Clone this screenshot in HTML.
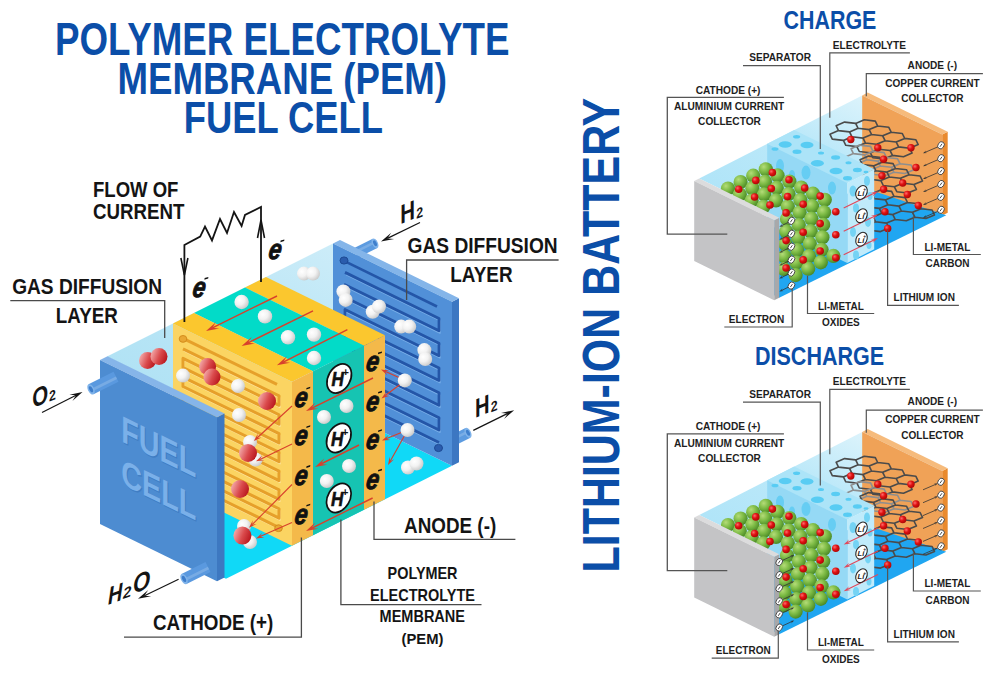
<!DOCTYPE html>
<html><head><meta charset="utf-8"><style>
html,body{margin:0;padding:0;background:#fff;}
svg{display:block;font-family:"Liberation Sans",sans-serif;}
</style></head><body>
<svg width="1000" height="674" viewBox="0 0 1000 674">
<defs>
<linearGradient id="gr" x1="0" y1="0.2" x2="1" y2="0.6"><stop offset="0" stop-color="#f6b4b4"/><stop offset="0.55" stop-color="#da4a4c"/><stop offset="1" stop-color="#b8161d"/></linearGradient>
<radialGradient id="gw" cx="35%" cy="35%" r="70%"><stop offset="0" stop-color="#ffffff"/><stop offset="0.5" stop-color="#f2f2f2"/><stop offset="1" stop-color="#c9c9c9"/></radialGradient>
<radialGradient id="gg" cx="35%" cy="32%" r="70%"><stop offset="0" stop-color="#b4dc78"/><stop offset="0.5" stop-color="#7dbb45"/><stop offset="1" stop-color="#4a8a26"/></radialGradient>
<radialGradient id="gd" cx="35%" cy="35%" r="65%"><stop offset="0" stop-color="#ff6a6a"/><stop offset="0.5" stop-color="#e01212"/><stop offset="1" stop-color="#b00808"/></radialGradient>
<linearGradient id="gtop" x1="0" y1="1" x2="1" y2="0"><stop offset="0" stop-color="#ade1f4"/><stop offset="0.5" stop-color="#bbe6f6"/><stop offset="1" stop-color="#d6f0fa"/></linearGradient>
<linearGradient id="gbtop" x1="0" y1="1" x2="1" y2="0"><stop offset="0" stop-color="#abe3f8"/><stop offset="0.55" stop-color="#bde9f9"/><stop offset="1" stop-color="#eef9fd"/></linearGradient>
</defs>
<rect width="1000" height="674" fill="#fff"/>
<polygon points="107.00,520.50 333.00,407.50 452.00,465.81 226.00,578.81" fill="#10d9f7"/>
<polygon points="107.00,356.50 333.00,243.50 452.00,301.81 226.00,414.81" fill="url(#gtop)"/>
<g transform="translate(356.00,252.80) rotate(-26.57)"><rect x="0" y="-5.2" width="21.24" height="10.4" fill="#5c9be0"/><rect x="0" y="-2.34" width="21.24" height="2.60" fill="#ffffff" opacity="0.18"/><ellipse cx="21.24" cy="0" rx="2.86" ry="5.2" fill="#7fb3ea"/><ellipse cx="21.24" cy="0" rx="1.56" ry="3.12" fill="#3f7fcc"/></g>
<g transform="translate(453.00,440.33) rotate(-26.57)"><rect x="0" y="-5.4" width="16.77" height="10.8" fill="#5c9be0"/><rect x="0" y="-2.43" width="16.77" height="2.70" fill="#ffffff" opacity="0.18"/><ellipse cx="16.77" cy="0" rx="2.97" ry="5.4" fill="#7fb3ea"/><ellipse cx="16.77" cy="0" rx="1.62" ry="3.24" fill="#3f7fcc"/></g>
<polygon points="452.00,301.81 459.00,298.31 459.00,462.31 452.00,465.81" fill="#3c77c2"/>
<polygon points="333.00,243.50 340.00,240.00 459.00,298.31 452.00,301.81" fill="#84b5e9"/>
<polygon points="333.00,243.50 452.00,301.81 452.00,465.81 333.00,407.50" fill="#5190d8"/>
<path d="M346.00,274.67 L440.00,320.73 L440.00,333.13 L346.00,287.07 L346.00,299.47 L440.00,345.53 L440.00,357.93 L346.00,311.87 L346.00,324.27 L440.00,370.33 L440.00,382.73 L346.00,336.67 L346.00,349.07 L440.00,395.13 L440.00,407.53 L346.00,361.47 L346.00,373.87 L440.00,419.93 L440.00,432.33 L346.00,386.27 L346.00,398.67 L440.00,444.73" fill="none" stroke="#78aee8" stroke-width="1.3" stroke-linejoin="round"/>
<path d="M345.00,272.38 L439.00,318.44 L439.00,330.84 L345.00,284.78 L345.00,297.18 L439.00,343.24 L439.00,355.64 L345.00,309.58 L345.00,321.98 L439.00,368.04 L439.00,380.44 L345.00,334.38 L345.00,346.78 L439.00,392.84 L439.00,405.24 L345.00,359.18 L345.00,371.58 L439.00,417.64 L439.00,430.04 L345.00,383.98 L345.00,396.38 L439.00,442.44" fill="none" stroke="#2456a8" stroke-width="2.8" stroke-linejoin="round"/>
<path d="M343.00,260.40 L437.00,306.46" fill="none" stroke="#2456a8" stroke-width="2.6" stroke-linejoin="round"/>
<ellipse cx="344.0" cy="260.5" rx="4" ry="3.6" fill="#2a5cad" stroke="#1d4a94" stroke-width="1"/>
<ellipse cx="438.5" cy="448.0" rx="4" ry="3.6" fill="#2a5cad" stroke="#1d4a94" stroke-width="1"/>
<circle cx="304.0" cy="273.6" r="7" fill="url(#gw)"/>
<circle cx="313.0" cy="273.6" r="7" fill="url(#gw)"/>
<circle cx="343.4" cy="291.4" r="7" fill="url(#gw)"/>
<circle cx="345.7" cy="299.9" r="7" fill="url(#gw)"/>
<circle cx="372.7" cy="311.8" r="7" fill="url(#gw)"/>
<circle cx="379.0" cy="306.5" r="7" fill="url(#gw)"/>
<circle cx="401.2" cy="326.6" r="7" fill="url(#gw)"/>
<circle cx="409.2" cy="326.6" r="7" fill="url(#gw)"/>
<circle cx="424.4" cy="350.1" r="7" fill="url(#gw)"/>
<circle cx="425.2" cy="359.0" r="7" fill="url(#gw)"/>
<circle cx="408.0" cy="467.5" r="7" fill="url(#gw)"/>
<circle cx="416.5" cy="463.5" r="7" fill="url(#gw)"/>
<polygon points="245.00,287.50 266.00,277.00 385.00,335.31 364.00,345.81" fill="#fbc72e"/>
<polygon points="364.00,345.81 385.00,335.31 385.00,499.31 364.00,509.81" fill="#f4b94a"/>
<polygon points="194.00,313.00 245.00,287.50 364.00,345.81 313.00,371.31" fill="#02dbc8"/>
<polygon points="313.00,371.31 364.00,345.81 364.00,509.81 313.00,535.31" fill="#16c4b2"/>
<polygon points="173.00,323.50 194.00,313.00 313.00,371.31 292.00,381.81" fill="#fbc72e"/>
<polygon points="292.00,381.81 313.00,371.31 313.00,535.31 292.00,545.81" fill="#f4b94a"/>
<polygon points="173.00,323.50 292.00,381.81 292.00,545.81 173.00,487.50" fill="#fbd462"/>
<path d="M184.00,350.89 L280.00,397.93 L280.00,407.33 L184.00,360.29 L184.00,369.69 L280.00,416.73 L280.00,426.13 L184.00,379.09 L184.00,388.49 L280.00,435.53 L280.00,444.93 L184.00,397.89 L184.00,407.29 L280.00,454.33 L280.00,463.73 L184.00,416.69 L184.00,426.09 L280.00,473.13 L280.00,482.53 L184.00,435.49 L184.00,444.89 L280.00,491.93 L280.00,501.33 L184.00,454.29 L184.00,463.69 L280.00,510.73 L280.00,520.13 L184.00,473.09 L184.00,482.49 L280.00,529.53" fill="none" stroke="#fde5a0" stroke-width="1.3" stroke-linejoin="round"/>
<path d="M183.00,348.90 L279.00,395.94 L279.00,405.34 L183.00,358.30 L183.00,367.70 L279.00,414.74 L279.00,424.14 L183.00,377.10 L183.00,386.50 L279.00,433.54 L279.00,442.94 L183.00,395.90 L183.00,405.30 L279.00,452.34 L279.00,461.74 L183.00,414.70 L183.00,424.10 L279.00,471.14 L279.00,480.54 L183.00,433.50 L183.00,442.90 L279.00,489.94 L279.00,499.34 L183.00,452.30 L183.00,461.70 L279.00,508.74 L279.00,518.14 L183.00,471.10 L183.00,480.50 L279.00,527.54" fill="none" stroke="#e6a02a" stroke-width="3.0" stroke-linejoin="round"/>
<path d="M183.00,338.40 L277.00,384.46" fill="none" stroke="#e6a02a" stroke-width="3.0" stroke-linejoin="round"/>
<ellipse cx="183.0" cy="338.9" rx="3.8" ry="3.4" fill="#e9a733" stroke="#d48d1c" stroke-width="1"/>
<ellipse cx="278.5" cy="528.2" rx="3.8" ry="3.4" fill="#e9a733" stroke="#d48d1c" stroke-width="1"/>
<circle cx="241.6" cy="302.0" r="7.2" fill="url(#gw)"/>
<circle cx="265.0" cy="316.4" r="7.2" fill="url(#gw)"/>
<circle cx="288.0" cy="337.3" r="7.2" fill="url(#gw)"/>
<circle cx="314.0" cy="334.6" r="7.2" fill="url(#gw)"/>
<circle cx="314.0" cy="358.0" r="7.2" fill="url(#gw)"/>
<circle cx="324.0" cy="417.0" r="7" fill="url(#gw)"/>
<circle cx="346.5" cy="406.0" r="7" fill="url(#gw)"/>
<circle cx="326.8" cy="481.0" r="7" fill="url(#gw)"/>
<circle cx="349.0" cy="466.0" r="7" fill="url(#gw)"/>
<line x1="277.0" y1="296.0" x2="212.4" y2="327.8" stroke="#d8402c" stroke-width="1.4"/>
<polygon points="206.0,331.0 216.1,322.0 212.4,327.8 219.3,328.5" fill="#d8402c"/>
<line x1="313.0" y1="310.8" x2="248.0" y2="342.8" stroke="#d8402c" stroke-width="1.4"/>
<polygon points="241.6,346.0 251.7,337.0 248.0,342.8 254.9,343.5" fill="#d8402c"/>
<line x1="347.4" y1="329.7" x2="283.3" y2="362.1" stroke="#d8402c" stroke-width="1.4"/>
<polygon points="276.9,365.3 286.9,356.2 283.3,362.1 290.1,362.7" fill="#d8402c"/>
<circle cx="147.5" cy="360.5" r="8.5" fill="url(#gr)"/>
<circle cx="159.0" cy="356.6" r="8.5" fill="url(#gr)"/>
<circle cx="183.0" cy="375.6" r="7" fill="url(#gw)"/>
<circle cx="207.6" cy="366.6" r="8.5" fill="url(#gr)"/>
<circle cx="212.0" cy="377.0" r="8.5" fill="url(#gr)"/>
<circle cx="238.0" cy="386.0" r="7" fill="url(#gw)"/>
<circle cx="267.0" cy="401.0" r="9" fill="url(#gr)"/>
<circle cx="239.0" cy="415.0" r="7" fill="url(#gw)"/>
<circle cx="250.0" cy="442.0" r="7" fill="url(#gw)"/>
<circle cx="255.6" cy="459.6" r="7" fill="url(#gw)"/>
<circle cx="248.0" cy="453.0" r="9" fill="url(#gr)"/>
<circle cx="240.0" cy="489.0" r="9" fill="url(#gr)"/>
<circle cx="244.0" cy="526.0" r="7" fill="url(#gw)"/>
<circle cx="250.0" cy="542.0" r="7" fill="url(#gw)"/>
<circle cx="242.4" cy="535.6" r="9" fill="url(#gr)"/>
<g transform="translate(339.2,378.5) rotate(-60)"><ellipse cx="0" cy="0" rx="15.5" ry="11" fill="#fff" stroke="#111" stroke-width="1.7"/></g>
<text transform="translate(331.4,386.0) scale(0.85,1)" font-size="20" font-weight="bold" font-style="italic" fill="#111" stroke="#111" stroke-width="0.6">H</text>
<text x="342.4" y="376.0" font-size="11" font-weight="bold" fill="#111">+</text>
<g transform="translate(338.8,438) rotate(-60)"><ellipse cx="0" cy="0" rx="15.5" ry="11" fill="#fff" stroke="#111" stroke-width="1.7"/></g>
<text transform="translate(331.0,445.5) scale(0.85,1)" font-size="20" font-weight="bold" font-style="italic" fill="#111" stroke="#111" stroke-width="0.6">H</text>
<text x="342.0" y="435.5" font-size="11" font-weight="bold" fill="#111">+</text>
<g transform="translate(338.8,498) rotate(-60)"><ellipse cx="0" cy="0" rx="15.5" ry="11" fill="#fff" stroke="#111" stroke-width="1.7"/></g>
<text transform="translate(331.0,505.5) scale(0.85,1)" font-size="20" font-weight="bold" font-style="italic" fill="#111" stroke="#111" stroke-width="0.6">H</text>
<text x="342.0" y="495.5" font-size="11" font-weight="bold" fill="#111">+</text>
<text transform="translate(293.4,406.6) skewX(-10) scale(0.8,1)" x="0" y="0" font-size="28.5" font-weight="bold" font-style="italic" fill="#111" stroke="#111" stroke-width="0.9">e</text>
<polygon points="306.5,387.9 310.3,386.7 310.1,388.3 306.3,389.5" fill="#111"/>
<text transform="translate(293.4,445.1) skewX(-10) scale(0.8,1)" x="0" y="0" font-size="28.5" font-weight="bold" font-style="italic" fill="#111" stroke="#111" stroke-width="0.9">e</text>
<polygon points="306.5,426.4 310.3,425.2 310.1,426.8 306.3,428.0" fill="#111"/>
<text transform="translate(293.4,485.0) skewX(-10) scale(0.8,1)" x="0" y="0" font-size="28.5" font-weight="bold" font-style="italic" fill="#111" stroke="#111" stroke-width="0.9">e</text>
<polygon points="306.5,466.3 310.3,465.1 310.1,466.7 306.3,467.9" fill="#111"/>
<text transform="translate(293.4,523.6) skewX(-10) scale(0.8,1)" x="0" y="0" font-size="28.5" font-weight="bold" font-style="italic" fill="#111" stroke="#111" stroke-width="0.9">e</text>
<polygon points="306.5,504.9 310.3,503.7 310.1,505.3 306.3,506.5" fill="#111"/>
<text transform="translate(365.1,371.3) skewX(-10) scale(0.8,1)" x="0" y="0" font-size="28.5" font-weight="bold" font-style="italic" fill="#111" stroke="#111" stroke-width="0.9">e</text>
<polygon points="378.2,352.6 382.0,351.4 381.8,353.0 378.0,354.2" fill="#111"/>
<text transform="translate(365.1,410.7) skewX(-10) scale(0.8,1)" x="0" y="0" font-size="28.5" font-weight="bold" font-style="italic" fill="#111" stroke="#111" stroke-width="0.9">e</text>
<polygon points="378.2,392.0 382.0,390.8 381.8,392.4 378.0,393.6" fill="#111"/>
<text transform="translate(365.1,449.1) skewX(-10) scale(0.8,1)" x="0" y="0" font-size="28.5" font-weight="bold" font-style="italic" fill="#111" stroke="#111" stroke-width="0.9">e</text>
<polygon points="378.2,430.4 382.0,429.2 381.8,430.8 378.0,432.0" fill="#111"/>
<text transform="translate(365.1,488.7) skewX(-10) scale(0.8,1)" x="0" y="0" font-size="28.5" font-weight="bold" font-style="italic" fill="#111" stroke="#111" stroke-width="0.9">e</text>
<polygon points="378.2,470.0 382.0,468.8 381.8,470.4 378.0,471.6" fill="#111"/>
<line x1="373.0" y1="378.0" x2="311.9" y2="408.1" stroke="#d8402c" stroke-width="1.4"/>
<polygon points="306.0,411.0 315.3,402.6 311.9,408.1 318.3,408.7" fill="#d8402c"/>
<line x1="359.0" y1="445.0" x2="320.9" y2="464.0" stroke="#d8402c" stroke-width="1.4"/>
<polygon points="315.0,467.0 324.2,458.6 320.9,464.0 327.3,464.7" fill="#d8402c"/>
<line x1="372.6" y1="498.0" x2="311.9" y2="528.1" stroke="#d8402c" stroke-width="1.4"/>
<polygon points="306.0,531.0 315.2,522.6 311.9,528.1 318.3,528.7" fill="#d8402c"/>
<line x1="292.0" y1="406.0" x2="257.0" y2="438.0" stroke="#d8402c" stroke-width="1.1"/>
<polygon points="253.8,441.0 257.9,433.6 257.0,438.0 261.5,437.5" fill="#d8402c"/>
<line x1="292.0" y1="444.0" x2="260.0" y2="459.4" stroke="#d8402c" stroke-width="1.1"/>
<polygon points="256.0,461.3 262.1,455.5 260.0,459.4 264.4,460.2" fill="#d8402c"/>
<line x1="292.0" y1="484.5" x2="252.1" y2="524.7" stroke="#d8402c" stroke-width="1.1"/>
<polygon points="249.0,527.8 252.8,520.3 252.1,524.7 256.5,524.0" fill="#d8402c"/>
<line x1="292.0" y1="522.5" x2="260.0" y2="536.6" stroke="#d8402c" stroke-width="1.1"/>
<polygon points="256.0,538.4 262.3,532.8 260.0,536.6 264.4,537.6" fill="#d8402c"/>
<line x1="401.0" y1="378.5" x2="385.0" y2="371.3" stroke="#d8402c" stroke-width="1.1"/>
<polygon points="381.0,369.5 389.4,370.4 385.0,371.3 387.2,375.2" fill="#d8402c"/>
<line x1="402.0" y1="383.0" x2="385.0" y2="395.8" stroke="#d8402c" stroke-width="1.1"/>
<polygon points="381.5,398.5 386.3,391.6 385.0,395.8 389.5,395.8" fill="#d8402c"/>
<line x1="405.0" y1="431.0" x2="386.1" y2="438.8" stroke="#d8402c" stroke-width="1.1"/>
<polygon points="382.0,440.5 388.4,435.0 386.1,438.8 390.4,439.9" fill="#d8402c"/>
<line x1="406.0" y1="433.0" x2="390.2" y2="461.2" stroke="#d8402c" stroke-width="1.1"/>
<polygon points="388.0,465.0 389.6,456.7 390.2,461.2 394.2,459.3" fill="#d8402c"/>
<circle cx="404.8" cy="380.4" r="7" fill="url(#gw)"/>
<circle cx="407.5" cy="430.0" r="7" fill="url(#gw)"/>
<polygon points="217.00,417.33 224.50,413.58 224.50,577.58 217.00,581.33" fill="#3d78c1"/>
<polygon points="100.00,360.00 107.50,356.25 224.50,413.58 217.00,417.33" fill="#86b5e9"/>
<polygon points="100.00,360.00 217.00,417.33 217.00,581.33 100.00,524.00" fill="#4d8cd1"/>
<g transform="matrix(1,0.49,0,1,100,360)">
<text x="22.30" y="71.80" font-size="37.26" font-weight="bold" textLength="75.00" lengthAdjust="spacingAndGlyphs" fill="#3f7cc2" opacity="0.9">FUEL</text>
<text x="22.30" y="114.50" font-size="36.39" font-weight="bold" textLength="75.00" lengthAdjust="spacingAndGlyphs" fill="#3f7cc2" opacity="0.9">CELL</text>
<text x="21.30" y="70.80" font-size="37.26" font-weight="bold" textLength="75.00" lengthAdjust="spacingAndGlyphs" fill="#7ab0e9">FUEL</text>
<text x="21.30" y="113.50" font-size="36.39" font-weight="bold" textLength="75.00" lengthAdjust="spacingAndGlyphs" fill="#7ab0e9">CELL</text>
</g>
<g transform="translate(116.00,376.86) rotate(153.43)"><rect x="0" y="-5.6" width="27.95" height="11.2" fill="#5a99df"/><rect x="0" y="-2.52" width="27.95" height="2.80" fill="#ffffff" opacity="0.18"/><ellipse cx="27.95" cy="0" rx="3.08" ry="5.6" fill="#7fb3ea"/><ellipse cx="27.95" cy="0" rx="1.68" ry="3.36" fill="#3d7dcb"/></g>
<g transform="translate(208.00,566.94) rotate(153.43)"><rect x="0" y="-5.6" width="26.83" height="11.2" fill="#5a99df"/><rect x="0" y="-2.52" width="26.83" height="2.80" fill="#ffffff" opacity="0.18"/><ellipse cx="26.83" cy="0" rx="3.08" ry="5.6" fill="#7fb3ea"/><ellipse cx="26.83" cy="0" rx="1.68" ry="3.36" fill="#3d7dcb"/></g>
<polyline points="184.4,322 184.4,245 200.2,236.6 205,226.6 212,240.4 220,219 227,233 234,212 241.6,226 245,215 261,207 261,282" fill="none" stroke="#141414" stroke-width="1.8" stroke-linejoin="miter"/>
<polyline points="180.9,258 184.4,275 187.9,258" fill="none" stroke="#141414" stroke-width="1.6"/>
<polyline points="257.5,238 261,220 264.5,238" fill="none" stroke="#141414" stroke-width="1.6"/>
<text transform="translate(191.5,296.8) skewX(-10) scale(0.8,1)" x="0" y="0" font-size="28.5" font-weight="bold" font-style="italic" fill="#111" stroke="#111" stroke-width="0.9">e</text>
<polygon points="204.6,278.1 208.4,276.9 208.2,278.5 204.4,279.7" fill="#111"/>
<text transform="translate(267.5,259.3) skewX(-10) scale(0.8,1)" x="0" y="0" font-size="28.5" font-weight="bold" font-style="italic" fill="#111" stroke="#111" stroke-width="0.9">e</text>
<polygon points="280.6,240.6 284.4,239.4 284.2,241.0 280.4,242.2" fill="#111"/>
<text x="55.00" y="55.00" font-size="45.49" font-weight="bold" textLength="454.49" lengthAdjust="spacingAndGlyphs" fill="#0b4ea8">POLYMER ELECTROLYTE</text>
<text x="117.50" y="93.75" font-size="43.67" font-weight="bold" textLength="329.49" lengthAdjust="spacingAndGlyphs" fill="#0b4ea8">MEMBRANE (PEM)</text>
<text x="183.75" y="132.50" font-size="43.67" font-weight="bold" textLength="199.27" lengthAdjust="spacingAndGlyphs" fill="#0b4ea8">FUEL CELL</text>
<text x="93.00" y="197.00" font-size="21.25" font-weight="bold" textLength="85.40" lengthAdjust="spacingAndGlyphs" fill="#141414">FLOW OF</text>
<text x="93.00" y="219.00" font-size="21.25" font-weight="bold" textLength="91.39" lengthAdjust="spacingAndGlyphs" fill="#141414">CURRENT</text>
<text x="12.20" y="293.80" font-size="22.27" font-weight="bold" textLength="149.79" lengthAdjust="spacingAndGlyphs" fill="#141414">GAS DIFFUSION</text>
<text x="55.80" y="323.00" font-size="22.85" font-weight="bold" textLength="62.11" lengthAdjust="spacingAndGlyphs" fill="#141414">LAYER</text>
<text x="407.60" y="253.00" font-size="22.13" font-weight="bold" textLength="150.09" lengthAdjust="spacingAndGlyphs" fill="#141414">GAS DIFFUSION</text>
<text x="450.30" y="282.40" font-size="22.71" font-weight="bold" textLength="62.31" lengthAdjust="spacingAndGlyphs" fill="#141414">LAYER</text>
<text x="404.10" y="532.60" font-size="22.13" font-weight="bold" textLength="92.10" lengthAdjust="spacingAndGlyphs" fill="#141414">ANODE (-)</text>
<text x="387.60" y="579.30" font-size="16.30" font-weight="bold" textLength="69.90" lengthAdjust="spacingAndGlyphs" fill="#141414">POLYMER</text>
<text x="370.00" y="600.70" font-size="16.30" font-weight="bold" textLength="104.90" lengthAdjust="spacingAndGlyphs" fill="#141414">ELECTROLYTE</text>
<text x="379.60" y="622.00" font-size="15.57" font-weight="bold" textLength="85.40" lengthAdjust="spacingAndGlyphs" fill="#141414">MEMBRANE</text>
<text x="401.50" y="643.50" font-size="14.85" font-weight="bold" textLength="41.90" lengthAdjust="spacingAndGlyphs" fill="#141414">(PEM)</text>
<text x="152.90" y="630.20" font-size="22.13" font-weight="bold" textLength="120.40" lengthAdjust="spacingAndGlyphs" fill="#141414">CATHODE (+)</text>
<polyline points="10.30,300.60 164.70,300.60 164.70,337.90" fill="none" stroke="#4a4a4a" stroke-width="1.3"/>
<polyline points="558.60,260.00 406.60,260.00 406.60,300.00" fill="none" stroke="#4a4a4a" stroke-width="1.3"/>
<polyline points="374.00,501.40 374.00,539.30 515.40,539.30" fill="none" stroke="#4a4a4a" stroke-width="1.3"/>
<polyline points="340.90,519.50 340.90,604.70 481.50,604.70" fill="none" stroke="#4a4a4a" stroke-width="1.3"/>
<polyline points="301.40,537.40 301.40,637.20 124.00,637.20" fill="none" stroke="#4a4a4a" stroke-width="1.3"/>
<g transform="translate(33,408) skewY(-22)"><text transform="scale(0.78,1)" x="-1.10" y="0" font-size="26.3" font-weight="bold" fill="#141414">O</text><text transform="translate(16.6,0.2) scale(0.85,1)" x="-0.6" y="0" font-size="14.5" font-weight="bold" fill="#141414">2</text></g>
<line x1="42.0" y1="412.5" x2="76.1" y2="395.2" stroke="#141414" stroke-width="1.2"/>
<polygon points="82.5,392.0 72.4,400.9 76.1,395.2 69.4,394.8" fill="#141414"/>
<g transform="translate(401.7,223.6) skewY(-22)"><text transform="scale(0.76,1)" x="-1.95" y="0" font-size="26.9" font-weight="bold" fill="#141414">H</text><text transform="translate(15.1,1.4) scale(0.85,1)" x="-0.6" y="0" font-size="14.5" font-weight="bold" fill="#141414">2</text></g>
<line x1="420.0" y1="222.5" x2="387.4" y2="238.4" stroke="#141414" stroke-width="1.2"/>
<polygon points="381.0,241.5 391.2,232.7 387.4,238.4 394.2,238.9" fill="#141414"/>
<g transform="translate(476.5,417.3) skewY(-22)"><text transform="scale(0.76,1)" x="-1.95" y="0" font-size="26.5" font-weight="bold" fill="#141414">H</text><text transform="translate(14.8,1.0) scale(0.85,1)" x="-0.6" y="0" font-size="14.5" font-weight="bold" fill="#141414">2</text></g>
<line x1="473.3" y1="430.4" x2="507.8" y2="413.4" stroke="#141414" stroke-width="1.2"/>
<polygon points="514.2,410.2 504.0,419.0 507.8,413.4 501.0,412.9" fill="#141414"/>
<g transform="translate(108,605) skewY(-20)"><text transform="scale(0.8,1)" x="0" y="0" font-size="25" font-weight="bold" font-style="italic" fill="#141414">H</text><text x="15" y="-0.5" font-size="15" font-weight="bold" font-style="italic" fill="#141414">2</text><text transform="scale(0.85,1)" x="29.5" y="-2" font-size="26" font-weight="bold" font-style="italic" fill="#141414">O</text></g>
<line x1="178.6" y1="579.2" x2="144.4" y2="595.7" stroke="#141414" stroke-width="1.2"/>
<polygon points="138.0,598.8 148.2,590.1 144.4,595.7 151.2,596.2" fill="#141414"/>
<polygon points="699.20,178.55 862.20,95.42 942.20,134.62 779.20,217.75" fill="url(#gbtop)"/>
<polygon points="942.20,134.62 947.70,131.81 947.70,212.81 942.20,215.62" fill="#e98a2e"/>
<polygon points="862.20,95.42 867.70,92.61 947.70,131.81 942.20,134.62" fill="#f6bb7c"/>
<polygon points="862.20,95.42 942.20,134.62 942.20,216.50 862.20,192.00" fill="#f0a257"/>
<polygon points="699.20,258.55 862.20,187.20 946.30,215.30 779.20,297.75" fill="#20a6f1"/>
<clipPath id="bclipcharge"><polygon points="694.20,181.10 867.20,92.87 947.20,132.07 947.20,212.07 774.20,300.30 694.20,261.10"/></clipPath>
<g clip-path="url(#bclipcharge)">
<path d="M877.7,126.0 L875.3,121.1 L864.3,119.8 L855.7,123.4 L858.1,128.3 L869.1,129.6Z M891.2,132.2 L888.8,127.3 L877.8,126.0 L869.2,129.6 L871.6,134.5 L882.6,135.8Z M904.7,138.4 L902.3,133.5 L891.3,132.2 L882.7,135.8 L885.1,140.7 L896.1,142.0Z M918.2,144.6 L915.8,139.7 L904.8,138.4 L896.2,142.0 L898.6,146.9 L909.6,148.2Z M858.1,128.3 L855.6,123.4 L844.6,122.1 L836.1,125.7 L838.5,130.6 L849.5,131.9Z M871.6,134.5 L869.1,129.6 L858.1,128.3 L849.6,131.9 L852.0,136.8 L863.0,138.1Z M885.1,140.7 L882.6,135.8 L871.6,134.5 L863.1,138.1 L865.5,143.0 L876.5,144.3Z M898.6,146.9 L896.1,142.0 L885.1,140.7 L876.6,144.3 L879.0,149.2 L890.0,150.5Z M912.1,153.1 L909.6,148.2 L898.6,146.9 L890.1,150.5 L892.5,155.4 L903.5,156.7Z M851.9,136.8 L849.5,131.9 L838.5,130.6 L829.9,134.2 L832.3,139.1 L843.3,140.4Z M865.4,143.0 L863.0,138.1 L852.0,136.8 L843.4,140.4 L845.8,145.3 L856.8,146.6Z M878.9,149.2 L876.5,144.3 L865.5,143.0 L856.9,146.6 L859.3,151.5 L870.3,152.8Z M892.4,155.4 L890.0,150.5 L879.0,149.2 L870.4,152.8 L872.8,157.7 L883.8,159.0Z" fill="none" stroke="#4b4b4b" stroke-width="1.6" stroke-linejoin="round"/>
<path d="M873.0,151.3 L870.6,146.4 L859.6,145.1 L851.0,148.7 L853.4,153.6 L864.4,154.9Z M886.5,157.5 L884.1,152.6 L873.1,151.3 L864.5,154.9 L866.9,159.8 L877.9,161.1Z M900.0,163.7 L897.6,158.8 L886.6,157.5 L878.0,161.1 L880.4,166.0 L891.4,167.3Z M913.5,169.9 L911.1,165.0 L900.1,163.7 L891.5,167.3 L893.9,172.2 L904.9,173.5Z M866.9,159.8 L864.4,154.9 L853.4,153.6 L844.9,157.2 L847.3,162.1 L858.3,163.4Z M880.4,166.0 L877.9,161.1 L866.9,159.8 L858.4,163.4 L860.8,168.3 L871.8,169.6Z M893.9,172.2 L891.4,167.3 L880.4,166.0 L871.9,169.6 L874.3,174.5 L885.3,175.8Z" fill="none" stroke="#8e8e8e" stroke-width="1.6" stroke-linejoin="round"/>
<path d="M882.0,162.3 L879.6,157.4 L868.6,156.1 L860.0,159.7 L862.4,164.6 L873.4,165.9Z M895.5,168.5 L893.1,163.6 L882.1,162.3 L873.5,165.9 L875.9,170.8 L886.9,172.1Z M909.0,174.7 L906.6,169.8 L895.6,168.5 L887.0,172.1 L889.4,177.0 L900.4,178.3Z M922.5,180.9 L920.1,176.0 L909.1,174.7 L900.5,178.3 L902.9,183.2 L913.9,184.5Z M875.9,170.8 L873.4,165.9 L862.4,164.6 L853.9,168.2 L856.3,173.1 L867.3,174.4Z M889.4,177.0 L886.9,172.1 L875.9,170.8 L867.4,174.4 L869.8,179.3 L880.8,180.6Z M902.9,183.2 L900.4,178.3 L889.4,177.0 L880.9,180.6 L883.3,185.5 L894.3,186.8Z M916.4,189.4 L913.9,184.5 L902.9,183.2 L894.4,186.8 L896.8,191.7 L907.8,193.0Z" fill="none" stroke="#4b4b4b" stroke-width="1.6" stroke-linejoin="round"/>
<path d="M894.0,196.3 L891.6,191.4 L880.6,190.1 L872.0,193.7 L874.4,198.6 L885.4,199.9Z M907.5,202.5 L905.1,197.6 L894.1,196.3 L885.5,199.9 L887.9,204.8 L898.9,206.1Z M921.0,208.7 L918.6,203.8 L907.6,202.5 L899.0,206.1 L901.4,211.0 L912.4,212.3Z M934.5,214.9 L932.1,210.0 L921.1,208.7 L912.5,212.3 L914.9,217.2 L925.9,218.5Z M874.4,198.6 L871.9,193.7 L860.9,192.4 L852.4,196.0 L854.8,200.9 L865.8,202.2Z M887.9,204.8 L885.4,199.9 L874.4,198.6 L865.9,202.2 L868.3,207.1 L879.3,208.4Z M901.4,211.0 L898.9,206.1 L887.9,204.8 L879.4,208.4 L881.8,213.3 L892.8,214.6Z M914.9,217.2 L912.4,212.3 L901.4,211.0 L892.9,214.6 L895.3,219.5 L906.3,220.8Z M868.2,207.1 L865.8,202.2 L854.8,200.9 L846.2,204.5 L848.6,209.4 L859.6,210.7Z M881.7,213.3 L879.3,208.4 L868.3,207.1 L859.7,210.7 L862.1,215.6 L873.1,216.9Z M895.2,219.5 L892.8,214.6 L881.8,213.3 L873.2,216.9 L875.6,221.8 L886.6,223.1Z M875.5,221.8 L873.1,216.9 L862.1,215.6 L853.5,219.2 L856.0,224.1 L867.0,225.4Z M889.0,228.0 L886.6,223.1 L875.6,221.8 L867.0,225.4 L869.5,230.3 L880.5,231.6Z" fill="none" stroke="#4b4b4b" stroke-width="1.6" stroke-linejoin="round"/>
<circle cx="850.8" cy="139.5" r="3.7" fill="url(#gd)"/>
<circle cx="877.8" cy="147.8" r="3.7" fill="url(#gd)"/>
<circle cx="911.0" cy="147.8" r="3.7" fill="url(#gd)"/>
<circle cx="883.6" cy="159.2" r="3.7" fill="url(#gd)"/>
<circle cx="916.0" cy="167.5" r="3.7" fill="url(#gd)"/>
<circle cx="882.0" cy="175.8" r="3.7" fill="url(#gd)"/>
<circle cx="902.7" cy="183.0" r="3.7" fill="url(#gd)"/>
<circle cx="907.3" cy="194.5" r="3.7" fill="url(#gd)"/>
<circle cx="883.6" cy="189.3" r="3.7" fill="url(#gd)"/>
<circle cx="918.3" cy="205.5" r="3.7" fill="url(#gd)"/>
<circle cx="885.0" cy="211.7" r="3.7" fill="url(#gd)"/>
<circle cx="887.7" cy="228.4" r="3.7" fill="url(#gd)"/>
</g>
<polygon points="767.20,143.87 794.20,130.10 874.20,169.30 847.20,183.07" fill="#ace4f8"/>
<polygon points="847.20,183.07 874.20,169.30 874.20,249.30 847.20,263.07" fill="#c0ebfb"/>
<polygon points="767.20,143.87 847.20,183.07 847.20,263.07 767.20,223.87" fill="#95d9f5"/>
<ellipse cx="796.6" cy="136.8" rx="3.6" ry="1.8" fill="#58ccf3"/>
<ellipse cx="785.2" cy="144.5" rx="6.5" ry="3.2" fill="#58ccf3"/>
<ellipse cx="807.0" cy="145.0" rx="6.5" ry="3.2" fill="#58ccf3"/>
<ellipse cx="797.0" cy="151.8" rx="4.5" ry="2.2" fill="#58ccf3"/>
<ellipse cx="821.0" cy="153.0" rx="3" ry="1.5" fill="#58ccf3"/>
<ellipse cx="835.6" cy="157.5" rx="4.5" ry="2.2" fill="#58ccf3"/>
<ellipse cx="817.4" cy="163.2" rx="6.5" ry="3.2" fill="#58ccf3"/>
<ellipse cx="848.5" cy="162.7" rx="3" ry="1.5" fill="#58ccf3"/>
<ellipse cx="836.0" cy="171.0" rx="6.5" ry="3.2" fill="#58ccf3"/>
<ellipse cx="857.4" cy="170.0" rx="4.5" ry="2.2" fill="#58ccf3"/>
<ellipse cx="847.5" cy="178.3" rx="4.5" ry="2.2" fill="#58ccf3"/>
<ellipse cx="775.0" cy="149.0" rx="3.5" ry="1.8" fill="#58ccf3"/>
<ellipse cx="866.0" cy="172.0" rx="2.5" ry="1.2" fill="#58ccf3"/>
<ellipse cx="806.0" cy="172.6" rx="4.5" ry="7" fill="#66cdf3"/>
<ellipse cx="780.0" cy="166.0" rx="4" ry="7" fill="#66cdf3"/>
<ellipse cx="832.0" cy="188.0" rx="4" ry="6.5" fill="#66cdf3"/>
<ellipse cx="792.0" cy="175.0" rx="3" ry="5" fill="#66cdf3"/>
<ellipse cx="867.0" cy="181.0" rx="3" ry="5" fill="#74d3f4"/>
<ellipse cx="853.0" cy="191.0" rx="3.5" ry="5.5" fill="#74d3f4"/>
<ellipse cx="870.0" cy="196.0" rx="2.5" ry="4" fill="#74d3f4"/>
<ellipse cx="856.0" cy="208.0" rx="3" ry="4.5" fill="#74d3f4"/>
<ellipse cx="868.0" cy="222.0" rx="3" ry="5" fill="#74d3f4"/>
<ellipse cx="853.0" cy="232.0" rx="3" ry="5" fill="#74d3f4"/>
<ellipse cx="869.0" cy="245.0" rx="2.5" ry="4" fill="#74d3f4"/>
<ellipse cx="856.0" cy="255.0" rx="3" ry="4.5" fill="#74d3f4"/>
<circle cx="765.8" cy="169.3" r="7.1" fill="url(#gg)"/>
<circle cx="777.6" cy="175.4" r="7.1" fill="url(#gg)"/>
<circle cx="753.2" cy="175.7" r="7.1" fill="url(#gg)"/>
<circle cx="789.4" cy="181.5" r="7.1" fill="url(#gg)"/>
<circle cx="765.0" cy="181.8" r="7.1" fill="url(#gg)"/>
<circle cx="740.6" cy="182.1" r="7.1" fill="url(#gg)"/>
<circle cx="801.2" cy="187.6" r="7.1" fill="url(#gg)"/>
<circle cx="776.8" cy="187.9" r="7.1" fill="url(#gg)"/>
<circle cx="752.4" cy="188.2" r="7.1" fill="url(#gg)"/>
<circle cx="728.0" cy="188.5" r="7.1" fill="url(#gg)"/>
<circle cx="813.0" cy="193.7" r="7.1" fill="url(#gg)"/>
<circle cx="788.6" cy="194.0" r="7.1" fill="url(#gg)"/>
<circle cx="764.2" cy="194.3" r="7.1" fill="url(#gg)"/>
<circle cx="739.8" cy="194.6" r="7.1" fill="url(#gg)"/>
<circle cx="824.8" cy="199.8" r="7.1" fill="url(#gg)"/>
<circle cx="800.4" cy="200.1" r="7.1" fill="url(#gg)"/>
<circle cx="776.0" cy="200.4" r="7.1" fill="url(#gg)"/>
<circle cx="751.6" cy="200.7" r="7.1" fill="url(#gg)"/>
<circle cx="812.2" cy="206.2" r="7.1" fill="url(#gg)"/>
<circle cx="787.8" cy="206.5" r="7.1" fill="url(#gg)"/>
<circle cx="763.4" cy="206.8" r="7.1" fill="url(#gg)"/>
<circle cx="824.0" cy="212.3" r="7.1" fill="url(#gg)"/>
<circle cx="799.6" cy="212.6" r="7.1" fill="url(#gg)"/>
<circle cx="811.4" cy="218.7" r="7.1" fill="url(#gg)"/>
<circle cx="787.0" cy="219.0" r="7.1" fill="url(#gg)"/>
<circle cx="823.2" cy="224.8" r="7.1" fill="url(#gg)"/>
<circle cx="798.8" cy="225.1" r="7.1" fill="url(#gg)"/>
<circle cx="810.6" cy="231.2" r="7.1" fill="url(#gg)"/>
<circle cx="786.2" cy="231.5" r="7.1" fill="url(#gg)"/>
<circle cx="822.4" cy="237.3" r="7.1" fill="url(#gg)"/>
<circle cx="798.0" cy="237.6" r="7.1" fill="url(#gg)"/>
<circle cx="809.8" cy="243.7" r="7.1" fill="url(#gg)"/>
<circle cx="785.4" cy="244.0" r="7.1" fill="url(#gg)"/>
<circle cx="821.6" cy="249.8" r="7.1" fill="url(#gg)"/>
<circle cx="797.2" cy="250.1" r="7.1" fill="url(#gg)"/>
<circle cx="833.4" cy="255.9" r="7.1" fill="url(#gg)"/>
<circle cx="809.0" cy="256.2" r="7.1" fill="url(#gg)"/>
<circle cx="784.6" cy="256.5" r="7.1" fill="url(#gg)"/>
<circle cx="820.8" cy="262.3" r="7.1" fill="url(#gg)"/>
<circle cx="796.4" cy="262.6" r="7.1" fill="url(#gg)"/>
<circle cx="808.2" cy="268.7" r="7.1" fill="url(#gg)"/>
<circle cx="783.8" cy="269.0" r="7.1" fill="url(#gg)"/>
<circle cx="795.6" cy="275.1" r="7.1" fill="url(#gg)"/>
<circle cx="738.7" cy="189.2" r="3.8" fill="url(#gd)"/>
<circle cx="755.8" cy="180.4" r="3.8" fill="url(#gd)"/>
<circle cx="772.4" cy="172.6" r="3.8" fill="url(#gd)"/>
<circle cx="789.0" cy="179.7" r="3.8" fill="url(#gd)"/>
<circle cx="771.3" cy="188.5" r="3.8" fill="url(#gd)"/>
<circle cx="754.6" cy="197.0" r="3.8" fill="url(#gd)"/>
<circle cx="770.0" cy="205.0" r="3.8" fill="url(#gd)"/>
<circle cx="787.6" cy="196.6" r="3.8" fill="url(#gd)"/>
<circle cx="804.7" cy="188.0" r="3.8" fill="url(#gd)"/>
<circle cx="820.2" cy="196.1" r="3.8" fill="url(#gd)"/>
<circle cx="803.2" cy="204.3" r="3.8" fill="url(#gd)"/>
<circle cx="786.1" cy="212.9" r="3.8" fill="url(#gd)"/>
<circle cx="835.8" cy="211.7" r="3.8" fill="url(#gd)"/>
<circle cx="820.2" cy="223.6" r="3.8" fill="url(#gd)"/>
<circle cx="803.2" cy="232.2" r="3.8" fill="url(#gd)"/>
<circle cx="835.8" cy="234.7" r="3.8" fill="url(#gd)"/>
<circle cx="786.1" cy="240.6" r="3.8" fill="url(#gd)"/>
<circle cx="820.2" cy="251.0" r="3.8" fill="url(#gd)"/>
<circle cx="803.2" cy="259.9" r="3.8" fill="url(#gd)"/>
<circle cx="835.8" cy="257.7" r="3.8" fill="url(#gd)"/>
<circle cx="786.1" cy="268.0" r="3.8" fill="url(#gd)"/>
<line x1="843.7" y1="208.0" x2="874.5" y2="193.1" stroke="#e0485a" stroke-width="1.1"/>
<polygon points="878.0,191.4 872.7,196.4 874.5,193.1 870.7,192.5" fill="#e0485a"/>
<g transform="translate(861.5,192.5) rotate(-62)"><ellipse rx="7.3" ry="5.3" fill="#fff" stroke="#2a2a2a" stroke-width="1.1"/></g>
<text x="857.6" y="195.8" font-size="7.5" font-weight="bold" font-style="italic" fill="#222">Li</text>
<text x="863.2" y="191.3" font-size="5" font-weight="bold" fill="#222">+</text>
<line x1="843.7" y1="231.2" x2="874.5" y2="216.3" stroke="#e0485a" stroke-width="1.1"/>
<polygon points="878.0,214.6 872.7,219.6 874.5,216.3 870.7,215.7" fill="#e0485a"/>
<g transform="translate(861.5,215.7) rotate(-62)"><ellipse rx="7.3" ry="5.3" fill="#fff" stroke="#2a2a2a" stroke-width="1.1"/></g>
<text x="857.6" y="219.0" font-size="7.5" font-weight="bold" font-style="italic" fill="#222">Li</text>
<text x="863.2" y="214.5" font-size="5" font-weight="bold" fill="#222">+</text>
<line x1="843.7" y1="254.7" x2="874.5" y2="239.8" stroke="#e0485a" stroke-width="1.1"/>
<polygon points="878.0,238.1 872.7,243.1 874.5,239.8 870.7,239.2" fill="#e0485a"/>
<g transform="translate(861.5,239.2) rotate(-62)"><ellipse rx="7.3" ry="5.3" fill="#fff" stroke="#2a2a2a" stroke-width="1.1"/></g>
<text x="857.6" y="242.5" font-size="7.5" font-weight="bold" font-style="italic" fill="#222">Li</text>
<text x="863.2" y="238.0" font-size="5" font-weight="bold" fill="#222">+</text>
<polygon points="774.20,220.30 779.20,217.75 779.20,297.75 774.20,300.30" fill="#a8a8aa"/>
<polygon points="694.20,181.10 699.20,178.55 779.20,217.75 774.20,220.30" fill="#dcdcdd"/>
<polygon points="694.20,181.10 774.20,220.30 774.20,300.30 694.20,261.10" fill="#c4c4c6"/>
<line x1="938.0" y1="146.8" x2="925.0" y2="152.4" stroke="#333" stroke-width="0.8"/>
<polygon points="923.0,153.3 926.1,150.5 925.0,152.4 927.2,152.9" fill="#333"/>
<g transform="translate(941.0,145.3) rotate(-55)"><ellipse rx="3.8" ry="3" fill="#fff" stroke="#333" stroke-width="0.8"/><line x1="-1.8" y1="0" x2="1.8" y2="0" stroke="#333" stroke-width="0.8"/></g>
<line x1="938.0" y1="159.7" x2="925.0" y2="165.3" stroke="#333" stroke-width="0.8"/>
<polygon points="923.0,166.2 926.1,163.4 925.0,165.3 927.2,165.8" fill="#333"/>
<g transform="translate(941.0,158.2) rotate(-55)"><ellipse rx="3.8" ry="3" fill="#fff" stroke="#333" stroke-width="0.8"/><line x1="-1.8" y1="0" x2="1.8" y2="0" stroke="#333" stroke-width="0.8"/></g>
<line x1="938.0" y1="172.6" x2="925.0" y2="178.2" stroke="#333" stroke-width="0.8"/>
<polygon points="923.0,179.1 926.1,176.3 925.0,178.2 927.2,178.7" fill="#333"/>
<g transform="translate(941.0,171.1) rotate(-55)"><ellipse rx="3.8" ry="3" fill="#fff" stroke="#333" stroke-width="0.8"/><line x1="-1.8" y1="0" x2="1.8" y2="0" stroke="#333" stroke-width="0.8"/></g>
<line x1="938.0" y1="185.5" x2="925.0" y2="191.1" stroke="#333" stroke-width="0.8"/>
<polygon points="923.0,192.0 926.1,189.2 925.0,191.1 927.2,191.6" fill="#333"/>
<g transform="translate(941.0,184.0) rotate(-55)"><ellipse rx="3.8" ry="3" fill="#fff" stroke="#333" stroke-width="0.8"/><line x1="-1.8" y1="0" x2="1.8" y2="0" stroke="#333" stroke-width="0.8"/></g>
<line x1="938.0" y1="198.4" x2="925.0" y2="204.0" stroke="#333" stroke-width="0.8"/>
<polygon points="923.0,204.9 926.1,202.1 925.0,204.0 927.2,204.5" fill="#333"/>
<g transform="translate(941.0,196.9) rotate(-55)"><ellipse rx="3.8" ry="3" fill="#fff" stroke="#333" stroke-width="0.8"/><line x1="-1.8" y1="0" x2="1.8" y2="0" stroke="#333" stroke-width="0.8"/></g>
<line x1="938.0" y1="211.3" x2="925.0" y2="216.9" stroke="#333" stroke-width="0.8"/>
<polygon points="923.0,217.8 926.1,215.0 925.0,216.9 927.2,217.4" fill="#333"/>
<g transform="translate(941.0,209.8) rotate(-55)"><ellipse rx="3.8" ry="3" fill="#fff" stroke="#333" stroke-width="0.8"/><line x1="-1.8" y1="0" x2="1.8" y2="0" stroke="#333" stroke-width="0.8"/></g>
<line x1="788.4" y1="222.3" x2="781.4" y2="225.8" stroke="#333" stroke-width="0.8"/>
<polygon points="779.4,226.8 782.4,223.8 781.4,225.8 783.6,226.2" fill="#333"/>
<g transform="translate(791.4,220.8) rotate(-55)"><ellipse rx="3.8" ry="3" fill="#fff" stroke="#333" stroke-width="0.8"/><line x1="-1.8" y1="0" x2="1.8" y2="0" stroke="#333" stroke-width="0.8"/></g>
<line x1="788.4" y1="235.2" x2="781.4" y2="238.8" stroke="#333" stroke-width="0.8"/>
<polygon points="779.4,239.8 782.4,236.8 781.4,238.8 783.6,239.1" fill="#333"/>
<g transform="translate(791.4,233.8) rotate(-55)"><ellipse rx="3.8" ry="3" fill="#fff" stroke="#333" stroke-width="0.8"/><line x1="-1.8" y1="0" x2="1.8" y2="0" stroke="#333" stroke-width="0.8"/></g>
<line x1="788.4" y1="248.2" x2="781.4" y2="251.7" stroke="#333" stroke-width="0.8"/>
<polygon points="779.4,252.7 782.4,249.7 781.4,251.7 783.6,252.1" fill="#333"/>
<g transform="translate(791.4,246.7) rotate(-55)"><ellipse rx="3.8" ry="3" fill="#fff" stroke="#333" stroke-width="0.8"/><line x1="-1.8" y1="0" x2="1.8" y2="0" stroke="#333" stroke-width="0.8"/></g>
<line x1="788.4" y1="261.1" x2="781.4" y2="264.7" stroke="#333" stroke-width="0.8"/>
<polygon points="779.4,265.6 782.4,262.7 781.4,264.7 783.6,265.0" fill="#333"/>
<g transform="translate(791.4,259.6) rotate(-55)"><ellipse rx="3.8" ry="3" fill="#fff" stroke="#333" stroke-width="0.8"/><line x1="-1.8" y1="0" x2="1.8" y2="0" stroke="#333" stroke-width="0.8"/></g>
<line x1="788.4" y1="274.1" x2="781.4" y2="277.6" stroke="#333" stroke-width="0.8"/>
<polygon points="779.4,278.6 782.4,275.6 781.4,277.6 783.6,278.0" fill="#333"/>
<g transform="translate(791.4,272.6) rotate(-55)"><ellipse rx="3.8" ry="3" fill="#fff" stroke="#333" stroke-width="0.8"/><line x1="-1.8" y1="0" x2="1.8" y2="0" stroke="#333" stroke-width="0.8"/></g>
<line x1="788.4" y1="287.1" x2="781.4" y2="290.6" stroke="#333" stroke-width="0.8"/>
<polygon points="779.4,291.6 782.4,288.6 781.4,290.6 783.6,290.9" fill="#333"/>
<g transform="translate(791.4,285.6) rotate(-55)"><ellipse rx="3.8" ry="3" fill="#fff" stroke="#333" stroke-width="0.8"/><line x1="-1.8" y1="0" x2="1.8" y2="0" stroke="#333" stroke-width="0.8"/></g>
<text x="783.60" y="28.60" font-size="26.20" font-weight="bold" textLength="92.79" lengthAdjust="spacingAndGlyphs" fill="#0b4ea8">CHARGE</text>
<text x="749.20" y="61.20" font-size="11.21" font-weight="bold" textLength="61.80" lengthAdjust="spacingAndGlyphs" fill="#1e1e1e">SEPARATOR</text>
<polyline points="743.00,65.60 820.30,65.60 820.30,149.00" fill="none" stroke="#555555" stroke-width="1.2"/>
<text x="832.80" y="48.80" font-size="11.21" font-weight="bold" textLength="73.20" lengthAdjust="spacingAndGlyphs" fill="#1e1e1e">ELECTROLYTE</text>
<polyline points="909.90,52.80 829.80,52.80 829.80,117.70" fill="none" stroke="#555555" stroke-width="1.2"/>
<text x="907.60" y="68.60" font-size="11.64" font-weight="bold" textLength="49.40" lengthAdjust="spacingAndGlyphs" fill="#1e1e1e">ANODE (-)</text>
<polyline points="982.90,73.60 866.30,73.60 866.30,96.30" fill="none" stroke="#555555" stroke-width="1.2"/>
<text x="885.20" y="86.90" font-size="11.35" font-weight="bold" textLength="94.50" lengthAdjust="spacingAndGlyphs" fill="#1e1e1e">COPPER CURRENT</text>
<text x="901.30" y="102.20" font-size="11.06" font-weight="bold" textLength="62.30" lengthAdjust="spacingAndGlyphs" fill="#1e1e1e">COLLECTOR</text>
<text x="695.70" y="93.90" font-size="11.21" font-weight="bold" textLength="64.80" lengthAdjust="spacingAndGlyphs" fill="#1e1e1e">CATHODE (+)</text>
<polyline points="783.90,97.40 667.30,97.40 667.30,234.20 727.30,234.20" fill="none" stroke="#555555" stroke-width="1.3"/>
<text x="674.00" y="110.30" font-size="11.64" font-weight="bold" textLength="110.30" lengthAdjust="spacingAndGlyphs" fill="#1e1e1e">ALUMINIUM CURRENT</text>
<text x="698.10" y="125.40" font-size="11.21" font-weight="bold" textLength="62.70" lengthAdjust="spacingAndGlyphs" fill="#1e1e1e">COLLECTOR</text>
<text x="924.50" y="250.60" font-size="11.06" font-weight="bold" textLength="45.90" lengthAdjust="spacingAndGlyphs" fill="#1e1e1e">LI-METAL</text>
<text x="925.50" y="267.40" font-size="11.50" font-weight="bold" textLength="44.00" lengthAdjust="spacingAndGlyphs" fill="#1e1e1e">CARBON</text>
<polyline points="913.40,216.20 913.40,254.50 980.80,254.50" fill="none" stroke="#555555" stroke-width="1.2"/>
<text x="893.50" y="301.20" font-size="11.35" font-weight="bold" textLength="61.40" lengthAdjust="spacingAndGlyphs" fill="#1e1e1e">LITHIUM ION</text>
<polyline points="887.60,229.60 887.60,305.30 958.90,305.30" fill="none" stroke="#555555" stroke-width="1.2"/>
<text x="728.80" y="323.00" font-size="11.79" font-weight="bold" textLength="55.40" lengthAdjust="spacingAndGlyphs" fill="#1e1e1e">ELECTRON</text>
<polyline points="792.20,287.90 792.20,327.00 724.30,327.00" fill="none" stroke="#555555" stroke-width="1.2"/>
<text x="817.90" y="309.50" font-size="11.21" font-weight="bold" textLength="45.90" lengthAdjust="spacingAndGlyphs" fill="#1e1e1e">LI-METAL</text>
<text x="822.00" y="326.20" font-size="11.21" font-weight="bold" textLength="37.80" lengthAdjust="spacingAndGlyphs" fill="#1e1e1e">OXIDES</text>
<polyline points="807.50,275.80 807.50,313.50 874.20,313.50" fill="none" stroke="#555555" stroke-width="1.2"/>
<polygon points="699.20,515.05 862.20,431.92 942.20,471.12 779.20,554.25" fill="url(#gbtop)"/>
<polygon points="942.20,471.12 947.70,468.32 947.70,549.32 942.20,552.12" fill="#e98a2e"/>
<polygon points="862.20,431.92 867.70,429.12 947.70,468.32 942.20,471.12" fill="#f6bb7c"/>
<polygon points="862.20,431.92 942.20,471.12 942.20,553.00 862.20,528.50" fill="#f0a257"/>
<polygon points="699.20,595.05 862.20,523.70 946.30,551.80 779.20,634.25" fill="#20a6f1"/>
<clipPath id="bclipdischarge"><polygon points="694.20,517.60 867.20,429.37 947.20,468.57 947.20,548.57 774.20,636.80 694.20,597.60"/></clipPath>
<g clip-path="url(#bclipdischarge)">
<path d="M877.7,462.5 L875.3,457.6 L864.3,456.3 L855.7,459.9 L858.1,464.8 L869.1,466.1Z M891.2,468.7 L888.8,463.8 L877.8,462.5 L869.2,466.1 L871.6,471.0 L882.6,472.3Z M904.7,474.9 L902.3,470.0 L891.3,468.7 L882.7,472.3 L885.1,477.2 L896.1,478.5Z M918.2,481.1 L915.8,476.2 L904.8,474.9 L896.2,478.5 L898.6,483.4 L909.6,484.7Z M858.1,464.8 L855.6,459.9 L844.6,458.6 L836.1,462.2 L838.5,467.1 L849.5,468.4Z M871.6,471.0 L869.1,466.1 L858.1,464.8 L849.6,468.4 L852.0,473.3 L863.0,474.6Z M885.1,477.2 L882.6,472.3 L871.6,471.0 L863.1,474.6 L865.5,479.5 L876.5,480.8Z M898.6,483.4 L896.1,478.5 L885.1,477.2 L876.6,480.8 L879.0,485.7 L890.0,487.0Z M912.1,489.6 L909.6,484.7 L898.6,483.4 L890.1,487.0 L892.5,491.9 L903.5,493.2Z M851.9,473.3 L849.5,468.4 L838.5,467.1 L829.9,470.7 L832.3,475.6 L843.3,476.9Z M865.4,479.5 L863.0,474.6 L852.0,473.3 L843.4,476.9 L845.8,481.8 L856.8,483.1Z M878.9,485.7 L876.5,480.8 L865.5,479.5 L856.9,483.1 L859.3,488.0 L870.3,489.3Z M892.4,491.9 L890.0,487.0 L879.0,485.7 L870.4,489.3 L872.8,494.2 L883.8,495.5Z" fill="none" stroke="#4b4b4b" stroke-width="1.6" stroke-linejoin="round"/>
<path d="M873.0,487.8 L870.6,482.9 L859.6,481.6 L851.0,485.2 L853.4,490.1 L864.4,491.4Z M886.5,494.0 L884.1,489.1 L873.1,487.8 L864.5,491.4 L866.9,496.3 L877.9,497.6Z M900.0,500.2 L897.6,495.3 L886.6,494.0 L878.0,497.6 L880.4,502.5 L891.4,503.8Z M913.5,506.4 L911.1,501.5 L900.1,500.2 L891.5,503.8 L893.9,508.7 L904.9,510.0Z M866.9,496.3 L864.4,491.4 L853.4,490.1 L844.9,493.7 L847.3,498.6 L858.3,499.9Z M880.4,502.5 L877.9,497.6 L866.9,496.3 L858.4,499.9 L860.8,504.8 L871.8,506.1Z M893.9,508.7 L891.4,503.8 L880.4,502.5 L871.9,506.1 L874.3,511.0 L885.3,512.3Z" fill="none" stroke="#8e8e8e" stroke-width="1.6" stroke-linejoin="round"/>
<path d="M882.0,498.8 L879.6,493.9 L868.6,492.6 L860.0,496.2 L862.4,501.1 L873.4,502.4Z M895.5,505.0 L893.1,500.1 L882.1,498.8 L873.5,502.4 L875.9,507.3 L886.9,508.6Z M909.0,511.2 L906.6,506.3 L895.6,505.0 L887.0,508.6 L889.4,513.5 L900.4,514.8Z M922.5,517.4 L920.1,512.5 L909.1,511.2 L900.5,514.8 L902.9,519.7 L913.9,521.0Z M875.9,507.3 L873.4,502.4 L862.4,501.1 L853.9,504.7 L856.3,509.6 L867.3,510.9Z M889.4,513.5 L886.9,508.6 L875.9,507.3 L867.4,510.9 L869.8,515.8 L880.8,517.1Z M902.9,519.7 L900.4,514.8 L889.4,513.5 L880.9,517.1 L883.3,522.0 L894.3,523.3Z M916.4,525.9 L913.9,521.0 L902.9,519.7 L894.4,523.3 L896.8,528.2 L907.8,529.5Z" fill="none" stroke="#4b4b4b" stroke-width="1.6" stroke-linejoin="round"/>
<path d="M894.0,532.8 L891.6,527.9 L880.6,526.6 L872.0,530.2 L874.4,535.1 L885.4,536.4Z M907.5,539.0 L905.1,534.1 L894.1,532.8 L885.5,536.4 L887.9,541.3 L898.9,542.6Z M921.0,545.2 L918.6,540.3 L907.6,539.0 L899.0,542.6 L901.4,547.5 L912.4,548.8Z M934.5,551.4 L932.1,546.5 L921.1,545.2 L912.5,548.8 L914.9,553.7 L925.9,555.0Z M874.4,535.1 L871.9,530.2 L860.9,528.9 L852.4,532.5 L854.8,537.4 L865.8,538.7Z M887.9,541.3 L885.4,536.4 L874.4,535.1 L865.9,538.7 L868.3,543.6 L879.3,544.9Z M901.4,547.5 L898.9,542.6 L887.9,541.3 L879.4,544.9 L881.8,549.8 L892.8,551.1Z M914.9,553.7 L912.4,548.8 L901.4,547.5 L892.9,551.1 L895.3,556.0 L906.3,557.3Z M868.2,543.6 L865.8,538.7 L854.8,537.4 L846.2,541.0 L848.6,545.9 L859.6,547.2Z M881.7,549.8 L879.3,544.9 L868.3,543.6 L859.7,547.2 L862.1,552.1 L873.1,553.4Z M895.2,556.0 L892.8,551.1 L881.8,549.8 L873.2,553.4 L875.6,558.3 L886.6,559.6Z M875.5,558.3 L873.1,553.4 L862.1,552.1 L853.5,555.7 L856.0,560.6 L867.0,561.9Z M889.0,564.5 L886.6,559.6 L875.6,558.3 L867.0,561.9 L869.5,566.8 L880.5,568.1Z" fill="none" stroke="#4b4b4b" stroke-width="1.6" stroke-linejoin="round"/>
<circle cx="850.8" cy="476.0" r="3.7" fill="url(#gd)"/>
<circle cx="877.8" cy="484.3" r="3.7" fill="url(#gd)"/>
<circle cx="911.0" cy="484.3" r="3.7" fill="url(#gd)"/>
<circle cx="883.6" cy="495.7" r="3.7" fill="url(#gd)"/>
<circle cx="916.0" cy="504.0" r="3.7" fill="url(#gd)"/>
<circle cx="882.0" cy="512.3" r="3.7" fill="url(#gd)"/>
<circle cx="902.7" cy="519.5" r="3.7" fill="url(#gd)"/>
<circle cx="907.3" cy="531.0" r="3.7" fill="url(#gd)"/>
<circle cx="883.6" cy="525.8" r="3.7" fill="url(#gd)"/>
<circle cx="918.3" cy="542.0" r="3.7" fill="url(#gd)"/>
<circle cx="885.0" cy="548.2" r="3.7" fill="url(#gd)"/>
<circle cx="887.7" cy="564.9" r="3.7" fill="url(#gd)"/>
</g>
<polygon points="767.20,480.37 794.20,466.60 874.20,505.80 847.20,519.57" fill="#ace4f8"/>
<polygon points="847.20,519.57 874.20,505.80 874.20,585.80 847.20,599.57" fill="#c0ebfb"/>
<polygon points="767.20,480.37 847.20,519.57 847.20,599.57 767.20,560.37" fill="#95d9f5"/>
<ellipse cx="796.6" cy="473.3" rx="3.6" ry="1.8" fill="#58ccf3"/>
<ellipse cx="785.2" cy="481.0" rx="6.5" ry="3.2" fill="#58ccf3"/>
<ellipse cx="807.0" cy="481.5" rx="6.5" ry="3.2" fill="#58ccf3"/>
<ellipse cx="797.0" cy="488.3" rx="4.5" ry="2.2" fill="#58ccf3"/>
<ellipse cx="821.0" cy="489.5" rx="3" ry="1.5" fill="#58ccf3"/>
<ellipse cx="835.6" cy="494.0" rx="4.5" ry="2.2" fill="#58ccf3"/>
<ellipse cx="817.4" cy="499.7" rx="6.5" ry="3.2" fill="#58ccf3"/>
<ellipse cx="848.5" cy="499.2" rx="3" ry="1.5" fill="#58ccf3"/>
<ellipse cx="836.0" cy="507.5" rx="6.5" ry="3.2" fill="#58ccf3"/>
<ellipse cx="857.4" cy="506.5" rx="4.5" ry="2.2" fill="#58ccf3"/>
<ellipse cx="847.5" cy="514.8" rx="4.5" ry="2.2" fill="#58ccf3"/>
<ellipse cx="775.0" cy="485.5" rx="3.5" ry="1.8" fill="#58ccf3"/>
<ellipse cx="866.0" cy="508.5" rx="2.5" ry="1.2" fill="#58ccf3"/>
<ellipse cx="806.0" cy="509.1" rx="4.5" ry="7" fill="#66cdf3"/>
<ellipse cx="780.0" cy="502.5" rx="4" ry="7" fill="#66cdf3"/>
<ellipse cx="832.0" cy="524.5" rx="4" ry="6.5" fill="#66cdf3"/>
<ellipse cx="792.0" cy="511.5" rx="3" ry="5" fill="#66cdf3"/>
<ellipse cx="867.0" cy="517.5" rx="3" ry="5" fill="#74d3f4"/>
<ellipse cx="853.0" cy="527.5" rx="3.5" ry="5.5" fill="#74d3f4"/>
<ellipse cx="870.0" cy="532.5" rx="2.5" ry="4" fill="#74d3f4"/>
<ellipse cx="856.0" cy="544.5" rx="3" ry="4.5" fill="#74d3f4"/>
<ellipse cx="868.0" cy="558.5" rx="3" ry="5" fill="#74d3f4"/>
<ellipse cx="853.0" cy="568.5" rx="3" ry="5" fill="#74d3f4"/>
<ellipse cx="869.0" cy="581.5" rx="2.5" ry="4" fill="#74d3f4"/>
<ellipse cx="856.0" cy="591.5" rx="3" ry="4.5" fill="#74d3f4"/>
<circle cx="765.8" cy="505.8" r="7.1" fill="url(#gg)"/>
<circle cx="777.6" cy="511.9" r="7.1" fill="url(#gg)"/>
<circle cx="753.2" cy="512.2" r="7.1" fill="url(#gg)"/>
<circle cx="789.4" cy="518.0" r="7.1" fill="url(#gg)"/>
<circle cx="765.0" cy="518.3" r="7.1" fill="url(#gg)"/>
<circle cx="740.6" cy="518.6" r="7.1" fill="url(#gg)"/>
<circle cx="801.2" cy="524.1" r="7.1" fill="url(#gg)"/>
<circle cx="776.8" cy="524.4" r="7.1" fill="url(#gg)"/>
<circle cx="752.4" cy="524.7" r="7.1" fill="url(#gg)"/>
<circle cx="728.0" cy="525.0" r="7.1" fill="url(#gg)"/>
<circle cx="813.0" cy="530.2" r="7.1" fill="url(#gg)"/>
<circle cx="788.6" cy="530.5" r="7.1" fill="url(#gg)"/>
<circle cx="764.2" cy="530.8" r="7.1" fill="url(#gg)"/>
<circle cx="739.8" cy="531.1" r="7.1" fill="url(#gg)"/>
<circle cx="824.8" cy="536.3" r="7.1" fill="url(#gg)"/>
<circle cx="800.4" cy="536.6" r="7.1" fill="url(#gg)"/>
<circle cx="776.0" cy="536.9" r="7.1" fill="url(#gg)"/>
<circle cx="751.6" cy="537.2" r="7.1" fill="url(#gg)"/>
<circle cx="812.2" cy="542.7" r="7.1" fill="url(#gg)"/>
<circle cx="787.8" cy="543.0" r="7.1" fill="url(#gg)"/>
<circle cx="763.4" cy="543.3" r="7.1" fill="url(#gg)"/>
<circle cx="824.0" cy="548.8" r="7.1" fill="url(#gg)"/>
<circle cx="799.6" cy="549.1" r="7.1" fill="url(#gg)"/>
<circle cx="811.4" cy="555.2" r="7.1" fill="url(#gg)"/>
<circle cx="787.0" cy="555.5" r="7.1" fill="url(#gg)"/>
<circle cx="823.2" cy="561.3" r="7.1" fill="url(#gg)"/>
<circle cx="798.8" cy="561.6" r="7.1" fill="url(#gg)"/>
<circle cx="810.6" cy="567.7" r="7.1" fill="url(#gg)"/>
<circle cx="786.2" cy="568.0" r="7.1" fill="url(#gg)"/>
<circle cx="822.4" cy="573.8" r="7.1" fill="url(#gg)"/>
<circle cx="798.0" cy="574.1" r="7.1" fill="url(#gg)"/>
<circle cx="809.8" cy="580.2" r="7.1" fill="url(#gg)"/>
<circle cx="785.4" cy="580.5" r="7.1" fill="url(#gg)"/>
<circle cx="821.6" cy="586.3" r="7.1" fill="url(#gg)"/>
<circle cx="797.2" cy="586.6" r="7.1" fill="url(#gg)"/>
<circle cx="833.4" cy="592.4" r="7.1" fill="url(#gg)"/>
<circle cx="809.0" cy="592.7" r="7.1" fill="url(#gg)"/>
<circle cx="784.6" cy="593.0" r="7.1" fill="url(#gg)"/>
<circle cx="820.8" cy="598.8" r="7.1" fill="url(#gg)"/>
<circle cx="796.4" cy="599.1" r="7.1" fill="url(#gg)"/>
<circle cx="808.2" cy="605.2" r="7.1" fill="url(#gg)"/>
<circle cx="783.8" cy="605.5" r="7.1" fill="url(#gg)"/>
<circle cx="795.6" cy="611.6" r="7.1" fill="url(#gg)"/>
<circle cx="738.7" cy="525.7" r="3.8" fill="url(#gd)"/>
<circle cx="755.8" cy="516.9" r="3.8" fill="url(#gd)"/>
<circle cx="772.4" cy="509.1" r="3.8" fill="url(#gd)"/>
<circle cx="789.0" cy="516.2" r="3.8" fill="url(#gd)"/>
<circle cx="771.3" cy="525.0" r="3.8" fill="url(#gd)"/>
<circle cx="754.6" cy="533.5" r="3.8" fill="url(#gd)"/>
<circle cx="770.0" cy="541.5" r="3.8" fill="url(#gd)"/>
<circle cx="787.6" cy="533.1" r="3.8" fill="url(#gd)"/>
<circle cx="804.7" cy="524.5" r="3.8" fill="url(#gd)"/>
<circle cx="820.2" cy="532.6" r="3.8" fill="url(#gd)"/>
<circle cx="803.2" cy="540.8" r="3.8" fill="url(#gd)"/>
<circle cx="786.1" cy="549.4" r="3.8" fill="url(#gd)"/>
<circle cx="835.8" cy="548.2" r="3.8" fill="url(#gd)"/>
<circle cx="820.2" cy="560.1" r="3.8" fill="url(#gd)"/>
<circle cx="803.2" cy="568.7" r="3.8" fill="url(#gd)"/>
<circle cx="835.8" cy="571.2" r="3.8" fill="url(#gd)"/>
<circle cx="786.1" cy="577.1" r="3.8" fill="url(#gd)"/>
<circle cx="820.2" cy="587.5" r="3.8" fill="url(#gd)"/>
<circle cx="803.2" cy="596.4" r="3.8" fill="url(#gd)"/>
<circle cx="835.8" cy="594.2" r="3.8" fill="url(#gd)"/>
<circle cx="786.1" cy="604.5" r="3.8" fill="url(#gd)"/>
<line x1="878.0" y1="527.9" x2="847.2" y2="542.8" stroke="#e0485a" stroke-width="1.1"/>
<polygon points="843.7,544.5 849.0,539.5 847.2,542.8 851.0,543.4" fill="#e0485a"/>
<g transform="translate(861.5,529.0) rotate(-62)"><ellipse rx="7.3" ry="5.3" fill="#fff" stroke="#2a2a2a" stroke-width="1.1"/></g>
<text x="857.6" y="532.3" font-size="7.5" font-weight="bold" font-style="italic" fill="#222">Li</text>
<text x="863.2" y="527.8" font-size="5" font-weight="bold" fill="#222">+</text>
<line x1="878.0" y1="551.1" x2="847.2" y2="566.0" stroke="#e0485a" stroke-width="1.1"/>
<polygon points="843.7,567.7 849.0,562.7 847.2,566.0 851.0,566.6" fill="#e0485a"/>
<g transform="translate(861.5,552.2) rotate(-62)"><ellipse rx="7.3" ry="5.3" fill="#fff" stroke="#2a2a2a" stroke-width="1.1"/></g>
<text x="857.6" y="555.5" font-size="7.5" font-weight="bold" font-style="italic" fill="#222">Li</text>
<text x="863.2" y="551.0" font-size="5" font-weight="bold" fill="#222">+</text>
<line x1="878.0" y1="574.6" x2="847.2" y2="589.5" stroke="#e0485a" stroke-width="1.1"/>
<polygon points="843.7,591.2 849.0,586.2 847.2,589.5 851.0,590.1" fill="#e0485a"/>
<g transform="translate(861.5,575.7) rotate(-62)"><ellipse rx="7.3" ry="5.3" fill="#fff" stroke="#2a2a2a" stroke-width="1.1"/></g>
<text x="857.6" y="579.0" font-size="7.5" font-weight="bold" font-style="italic" fill="#222">Li</text>
<text x="863.2" y="574.5" font-size="5" font-weight="bold" fill="#222">+</text>
<polygon points="774.20,556.80 779.20,554.25 779.20,634.25 774.20,636.80" fill="#a8a8aa"/>
<polygon points="694.20,517.60 699.20,515.05 779.20,554.25 774.20,556.80" fill="#dcdcdd"/>
<polygon points="694.20,517.60 774.20,556.80 774.20,636.80 694.20,597.60" fill="#c4c4c6"/>
<line x1="923.0" y1="489.8" x2="936.0" y2="484.2" stroke="#333" stroke-width="0.8"/>
<polygon points="938.0,483.3 934.9,486.1 936.0,484.2 933.8,483.7" fill="#333"/>
<g transform="translate(941.0,481.8) rotate(-55)"><ellipse rx="3.8" ry="3" fill="#fff" stroke="#333" stroke-width="0.8"/><line x1="-1.8" y1="0" x2="1.8" y2="0" stroke="#333" stroke-width="0.8"/></g>
<line x1="923.0" y1="502.7" x2="936.0" y2="497.1" stroke="#333" stroke-width="0.8"/>
<polygon points="938.0,496.2 934.9,499.0 936.0,497.1 933.8,496.6" fill="#333"/>
<g transform="translate(941.0,494.7) rotate(-55)"><ellipse rx="3.8" ry="3" fill="#fff" stroke="#333" stroke-width="0.8"/><line x1="-1.8" y1="0" x2="1.8" y2="0" stroke="#333" stroke-width="0.8"/></g>
<line x1="923.0" y1="515.6" x2="936.0" y2="510.0" stroke="#333" stroke-width="0.8"/>
<polygon points="938.0,509.1 934.9,511.9 936.0,510.0 933.8,509.5" fill="#333"/>
<g transform="translate(941.0,507.6) rotate(-55)"><ellipse rx="3.8" ry="3" fill="#fff" stroke="#333" stroke-width="0.8"/><line x1="-1.8" y1="0" x2="1.8" y2="0" stroke="#333" stroke-width="0.8"/></g>
<line x1="923.0" y1="528.5" x2="936.0" y2="522.9" stroke="#333" stroke-width="0.8"/>
<polygon points="938.0,522.0 934.9,524.8 936.0,522.9 933.8,522.4" fill="#333"/>
<g transform="translate(941.0,520.5) rotate(-55)"><ellipse rx="3.8" ry="3" fill="#fff" stroke="#333" stroke-width="0.8"/><line x1="-1.8" y1="0" x2="1.8" y2="0" stroke="#333" stroke-width="0.8"/></g>
<line x1="923.0" y1="541.4" x2="936.0" y2="535.8" stroke="#333" stroke-width="0.8"/>
<polygon points="938.0,534.9 934.9,537.7 936.0,535.8 933.8,535.3" fill="#333"/>
<g transform="translate(941.0,533.4) rotate(-55)"><ellipse rx="3.8" ry="3" fill="#fff" stroke="#333" stroke-width="0.8"/><line x1="-1.8" y1="0" x2="1.8" y2="0" stroke="#333" stroke-width="0.8"/></g>
<line x1="923.0" y1="554.3" x2="936.0" y2="548.7" stroke="#333" stroke-width="0.8"/>
<polygon points="938.0,547.8 934.9,550.6 936.0,548.7 933.8,548.2" fill="#333"/>
<g transform="translate(941.0,546.3) rotate(-55)"><ellipse rx="3.8" ry="3" fill="#fff" stroke="#333" stroke-width="0.8"/><line x1="-1.8" y1="0" x2="1.8" y2="0" stroke="#333" stroke-width="0.8"/></g>
<line x1="782.2" y1="560.5" x2="792.2" y2="555.9" stroke="#333" stroke-width="0.8"/>
<polygon points="794.2,555.0 791.1,557.9 792.2,555.9 790.0,555.5" fill="#333"/>
<g transform="translate(779.2,562.0) rotate(-55)"><ellipse rx="3.8" ry="3" fill="#fff" stroke="#333" stroke-width="0.8"/><line x1="-1.8" y1="0" x2="1.8" y2="0" stroke="#333" stroke-width="0.8"/></g>
<line x1="782.2" y1="573.6" x2="792.2" y2="569.0" stroke="#333" stroke-width="0.8"/>
<polygon points="794.2,568.1 791.1,571.0 792.2,569.0 790.0,568.6" fill="#333"/>
<g transform="translate(779.2,575.1) rotate(-55)"><ellipse rx="3.8" ry="3" fill="#fff" stroke="#333" stroke-width="0.8"/><line x1="-1.8" y1="0" x2="1.8" y2="0" stroke="#333" stroke-width="0.8"/></g>
<line x1="782.2" y1="586.7" x2="792.2" y2="582.1" stroke="#333" stroke-width="0.8"/>
<polygon points="794.2,581.2 791.1,584.1 792.2,582.1 790.0,581.7" fill="#333"/>
<g transform="translate(779.2,588.2) rotate(-55)"><ellipse rx="3.8" ry="3" fill="#fff" stroke="#333" stroke-width="0.8"/><line x1="-1.8" y1="0" x2="1.8" y2="0" stroke="#333" stroke-width="0.8"/></g>
<line x1="782.2" y1="599.8" x2="792.2" y2="595.2" stroke="#333" stroke-width="0.8"/>
<polygon points="794.2,594.3 791.1,597.2 792.2,595.2 790.0,594.8" fill="#333"/>
<g transform="translate(779.2,601.3) rotate(-55)"><ellipse rx="3.8" ry="3" fill="#fff" stroke="#333" stroke-width="0.8"/><line x1="-1.8" y1="0" x2="1.8" y2="0" stroke="#333" stroke-width="0.8"/></g>
<line x1="782.2" y1="612.9" x2="792.2" y2="608.3" stroke="#333" stroke-width="0.8"/>
<polygon points="794.2,607.4 791.1,610.3 792.2,608.3 790.0,607.9" fill="#333"/>
<g transform="translate(779.2,614.4) rotate(-55)"><ellipse rx="3.8" ry="3" fill="#fff" stroke="#333" stroke-width="0.8"/><line x1="-1.8" y1="0" x2="1.8" y2="0" stroke="#333" stroke-width="0.8"/></g>
<line x1="782.2" y1="626.0" x2="792.2" y2="621.4" stroke="#333" stroke-width="0.8"/>
<polygon points="794.2,620.5 791.1,623.4 792.2,621.4 790.0,621.0" fill="#333"/>
<g transform="translate(779.2,627.5) rotate(-55)"><ellipse rx="3.8" ry="3" fill="#fff" stroke="#333" stroke-width="0.8"/><line x1="-1.8" y1="0" x2="1.8" y2="0" stroke="#333" stroke-width="0.8"/></g>
<text x="755.00" y="364.80" font-size="25.62" font-weight="bold" textLength="129.09" lengthAdjust="spacingAndGlyphs" fill="#0b4ea8">DISCHARGE</text>
<text x="749.20" y="397.70" font-size="11.21" font-weight="bold" textLength="61.80" lengthAdjust="spacingAndGlyphs" fill="#1e1e1e">SEPARATOR</text>
<polyline points="743.00,402.10 820.30,402.10 820.30,485.50" fill="none" stroke="#555555" stroke-width="1.2"/>
<text x="832.80" y="385.30" font-size="11.21" font-weight="bold" textLength="73.20" lengthAdjust="spacingAndGlyphs" fill="#1e1e1e">ELECTROLYTE</text>
<polyline points="909.90,389.30 829.80,389.30 829.80,454.20" fill="none" stroke="#555555" stroke-width="1.2"/>
<text x="907.60" y="405.10" font-size="11.64" font-weight="bold" textLength="49.40" lengthAdjust="spacingAndGlyphs" fill="#1e1e1e">ANODE (-)</text>
<polyline points="982.90,410.10 866.30,410.10 866.30,432.80" fill="none" stroke="#555555" stroke-width="1.2"/>
<text x="885.20" y="423.40" font-size="11.35" font-weight="bold" textLength="94.50" lengthAdjust="spacingAndGlyphs" fill="#1e1e1e">COPPER CURRENT</text>
<text x="901.30" y="438.70" font-size="11.06" font-weight="bold" textLength="62.30" lengthAdjust="spacingAndGlyphs" fill="#1e1e1e">COLLECTOR</text>
<text x="695.70" y="430.40" font-size="11.21" font-weight="bold" textLength="64.80" lengthAdjust="spacingAndGlyphs" fill="#1e1e1e">CATHODE (+)</text>
<polyline points="783.90,433.90 667.30,433.90 667.30,570.70 727.30,570.70" fill="none" stroke="#555555" stroke-width="1.3"/>
<text x="674.00" y="446.80" font-size="11.64" font-weight="bold" textLength="110.30" lengthAdjust="spacingAndGlyphs" fill="#1e1e1e">ALUMINIUM CURRENT</text>
<text x="698.10" y="461.90" font-size="11.21" font-weight="bold" textLength="62.70" lengthAdjust="spacingAndGlyphs" fill="#1e1e1e">COLLECTOR</text>
<text x="924.50" y="587.10" font-size="11.06" font-weight="bold" textLength="45.90" lengthAdjust="spacingAndGlyphs" fill="#1e1e1e">LI-METAL</text>
<text x="925.50" y="603.90" font-size="11.50" font-weight="bold" textLength="44.00" lengthAdjust="spacingAndGlyphs" fill="#1e1e1e">CARBON</text>
<polyline points="913.40,552.70 913.40,591.00 980.80,591.00" fill="none" stroke="#555555" stroke-width="1.2"/>
<text x="893.50" y="637.70" font-size="11.35" font-weight="bold" textLength="61.40" lengthAdjust="spacingAndGlyphs" fill="#1e1e1e">LITHIUM ION</text>
<polyline points="887.60,566.10 887.60,641.80 958.90,641.80" fill="none" stroke="#555555" stroke-width="1.2"/>
<text x="715.80" y="654.00" font-size="11.06" font-weight="bold" textLength="54.80" lengthAdjust="spacingAndGlyphs" fill="#1e1e1e">ELECTRON</text>
<polyline points="778.30,631.00 778.30,658.10 711.70,658.10" fill="none" stroke="#555555" stroke-width="1.2"/>
<text x="817.90" y="646.00" font-size="11.21" font-weight="bold" textLength="45.90" lengthAdjust="spacingAndGlyphs" fill="#1e1e1e">LI-METAL</text>
<text x="822.00" y="662.70" font-size="11.21" font-weight="bold" textLength="37.80" lengthAdjust="spacingAndGlyphs" fill="#1e1e1e">OXIDES</text>
<polyline points="807.50,612.30 807.50,650.00 874.20,650.00" fill="none" stroke="#555555" stroke-width="1.2"/>
<g transform="translate(619,572.5) rotate(-90)"><text x="0.00" y="0.00" font-size="52.40" font-weight="bold" textLength="474.71" lengthAdjust="spacingAndGlyphs" fill="#0b4ea8">LITHIUM-ION BATTERY</text></g>
</svg></body></html>
